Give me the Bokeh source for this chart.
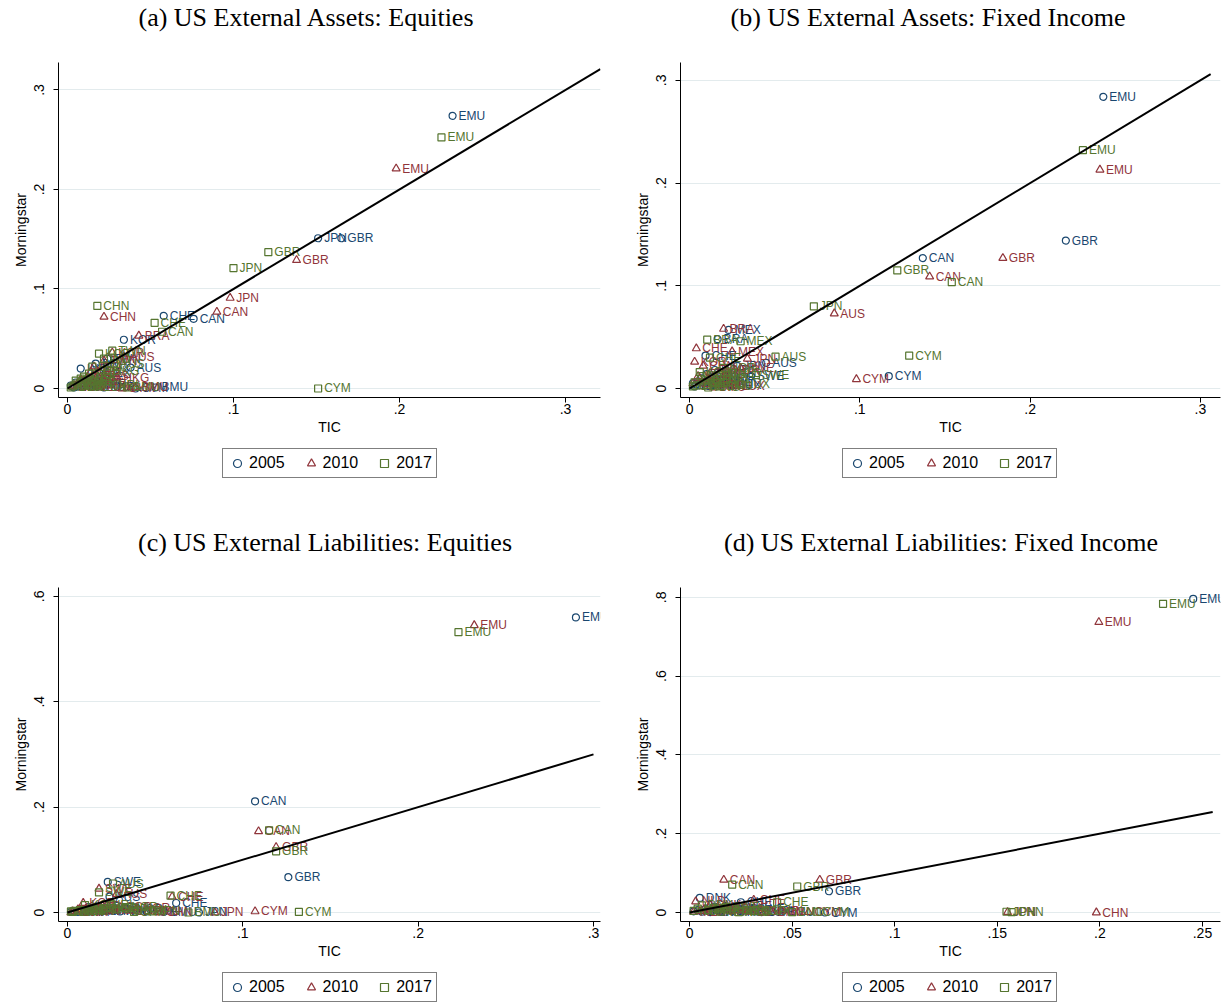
from bokeh.plotting import figure
from bokeh.models import Legend, LegendItem, FixedTicker, Range1d, Div
from bokeh.layouts import column, row
from bokeh.embed import file_html
from bokeh.resources import INLINE
from bokeh.core.properties import value

NAVY = "#1a476f"
MAROON = "#90353b"
FOREST = "#55752f"
GRID = "#e3ebed"

YEARS = ["2005", "2010", "2017"]

# ---------------- (a) US External Assets: Equities ----------------
AEQ_05_CTRY = ["EMU","JPN","GBR","CHE","CAN","KOR","AUS","TWN","BRA","IND","MEX","HKG","SGP","SWE","NLD","BMU","CYM","IRL","LUX","ZAF","DNK","NOR","FIN","ISR"]
AEQ_05_TIC = [0.232,0.151,0.165,0.058,0.076,0.034,0.038,0.024,0.017,0.008,0.019,0.013,0.010,0.015,0.006,0.053,0.041,0.030,0.022,0.005,0.003,0.002,0.004,0.006]
AEQ_05_MS = [0.274,0.151,0.151,0.073,0.070,0.049,0.021,0.030,0.025,0.020,0.016,0.010,0.008,0.005,0.004,0.001,0.000,0.002,0.001,0.006,0.002,0.003,0.001,0.002]

AEQ_10_CTRY = ["EMU","GBR","JPN","CAN","CHN","BRA","AUS","KOR","TWN","HKG","IND","MEX","CYM","BMU","IRL","SWE","SGP","ZAF","NLD","RUS","DNK","NOR","LUX"]
AEQ_10_TIC = [0.198,0.138,0.098,0.090,0.022,0.043,0.034,0.027,0.022,0.030,0.016,0.014,0.033,0.041,0.025,0.011,0.012,0.008,0.006,0.018,0.004,0.003,0.020]
AEQ_10_MS = [0.221,0.129,0.091,0.077,0.072,0.053,0.032,0.036,0.028,0.011,0.022,0.017,0.000,0.001,0.003,0.008,0.011,0.009,0.005,0.013,0.003,0.002,0.001]

AEQ_17_CTRY = ["EMU","GBR","JPN","CHN","CHE","CAN","KOR","TWN","IND","BRA","AUS","HKG","MEX","SGP","CYM","BMU","IRL","LUX","SWE","RUS","ZAF","NLD","ISR","DNK","NOR","THA"]
AEQ_17_TIC = [0.2253,0.121,0.100,0.018,0.0525,0.057,0.019,0.027,0.022,0.015,0.028,0.024,0.010,0.013,0.151,0.036,0.030,0.018,0.009,0.008,0.006,0.004,0.012,0.003,0.002,0.005]
AEQ_17_MS = [0.2523,0.137,0.121,0.083,0.066,0.057,0.035,0.038,0.030,0.022,0.025,0.018,0.012,0.015,0.000,0.001,0.004,0.002,0.007,0.010,0.005,0.003,0.004,0.002,0.001,0.008]

# ---------------- (b) US External Assets: Fixed Income ----------------
AFI_05_CTRY = ["EMU","GBR","CAN","CYM","AUS","MEX","BRA","CHE","SWE","JPN","KOR","NOR","DNK","NLD","CHN","IND","ZAF","CHL","ISR","BMU","LUX","IRL","HKG","SGP","COL"]
AFI_05_TIC = [0.243,0.221,0.137,0.117,0.045,0.023,0.0165,0.0094,0.036,0.028,0.015,0.020,0.012,0.008,0.010,0.004,0.006,0.005,0.003,0.018,0.025,0.022,0.014,0.007,0.002]
AFI_05_MS = [0.284,0.144,0.127,0.012,0.025,0.057,0.048,0.032,0.012,0.022,0.018,0.010,0.008,0.006,0.014,0.004,0.003,0.007,0.002,0.004,0.003,0.006,0.003,0.010,0.005]

AFI_10_CTRY = ["EMU","GBR","CAN","AUS","CYM","JPN","BRA","CHE","MEX","KOR","SWE","NOR","CHN","DNK","NLD","IND","ZAF","CHL","LUX","IRL","BMU","SGP"]
AFI_10_TIC = [0.241,0.184,0.141,0.085,0.098,0.034,0.020,0.004,0.025,0.003,0.030,0.022,0.008,0.012,0.006,0.002,0.016,0.010,0.027,0.018,0.014,0.005]
AFI_10_MS = [0.213,0.127,0.109,0.073,0.009,0.029,0.058,0.039,0.036,0.026,0.020,0.018,0.022,0.015,0.010,0.005,0.006,0.004,0.002,0.003,0.001,0.012]

AFI_17_CTRY = ["EMU","GBR","CAN","JPN","CYM","AUS","MEX","BRA","SWE","KOR","CHE","NOR","DNK","CHN","NLD","IND","ZAF","CHL","LUX","IRL","BMU","SGP","COL","HKG"]
AFI_17_TIC = [0.231,0.122,0.154,0.073,0.129,0.0505,0.030,0.0104,0.039,0.006,0.012,0.020,0.016,0.009,0.025,0.003,0.004,0.014,0.030,0.022,0.018,0.007,0.002,0.011]
AFI_17_MS = [0.232,0.115,0.1035,0.080,0.032,0.031,0.046,0.0475,0.013,0.016,0.030,0.020,0.012,0.008,0.015,0.006,0.003,0.005,0.004,0.009,0.002,0.012,0.002,0.001]

# ---------------- (c) US External Liabilities: Equities ----------------
LEQ_05_CTRY = ["EMU","CAN","GBR","CHE","AUS","SWE","JPN","BMU","KOR","IND","HKG","SGP","NOR","DNK","LUX","IRL","MEX","BRA","ISR","TWN","CHN"]
LEQ_05_TIC = [0.290,0.107,0.126,0.062,0.024,0.023,0.075,0.055,0.012,0.008,0.030,0.018,0.036,0.010,0.045,0.028,0.004,0.006,0.014,0.002,0.020]
LEQ_05_MS = [0.560,0.211,0.067,0.018,0.030,0.058,0.000,0.001,0.010,0.004,0.002,0.005,0.006,0.003,0.002,0.008,0.002,0.001,0.006,0.001,0.003]

LEQ_10_CTRY = ["EMU","CAN","GBR","CYM","JPN","CHE","SWE","AUS","CHN","SGP","NOR","KOR","IND","HKG","BMU","DNK","LUX","IRL","MEX","BRA","ISR","TWN"]
LEQ_10_TIC = [0.232,0.109,0.119,0.107,0.084,0.0597,0.018,0.028,0.053,0.030,0.040,0.009,0.006,0.024,0.046,0.013,0.036,0.020,0.003,0.005,0.015,0.002]
LEQ_10_MS = [0.545,0.154,0.124,0.002,0.000,0.030,0.045,0.035,0.000,0.010,0.008,0.018,0.006,0.004,0.002,0.005,0.003,0.012,0.002,0.001,0.003,0.000]

LEQ_17_CTRY = ["EMU","CAN","GBR","CYM","BMU","CHE","AUS","SWE","NOR","SGP","KOR","IND","HKG","DNK","LUX","IRL","JPN","CHN","MEX","BRA","ISR","TWN"]
LEQ_17_TIC = [0.223,0.115,0.119,0.132,0.069,0.0588,0.026,0.018,0.033,0.028,0.010,0.007,0.022,0.015,0.040,0.025,0.048,0.038,0.004,0.003,0.012,0.002]
LEQ_17_MS = [0.532,0.156,0.116,0.001,0.000,0.032,0.055,0.038,0.010,0.006,0.014,0.004,0.008,0.007,0.004,0.015,0.002,0.001,0.003,0.001,0.002,0.002]

# ---------------- (d) US External Liabilities: Fixed Income ----------------
LFI_05_CTRY = ["EMU","GBR","DNK","CHE","CYM","CAN","JPN","AUS","SWE","NOR","KOR","BMU","LUX","IRL","NLD","CHN","MEX","HKG","SGP"]
LFI_05_TIC = [0.2455,0.068,0.005,0.025,0.066,0.012,0.020,0.008,0.030,0.015,0.004,0.045,0.035,0.040,0.002,0.010,0.006,0.025,0.018]
LFI_05_MS = [0.796,0.054,0.037,0.026,0.000,0.015,0.005,0.010,0.008,0.004,0.006,0.002,0.001,0.003,0.003,0.001,0.002,0.002,0.008]

LFI_10_CTRY = ["EMU","CHN","JPN","CAN","GBR","CHE","NLD","DNK","SWE","AUS","NOR","CYM","BMU","LUX","IRL","KOR","MEX","HKG","SGP"]
LFI_10_TIC = [0.1995,0.1983,0.155,0.0167,0.0635,0.0313,0.003,0.010,0.022,0.014,0.007,0.058,0.040,0.030,0.045,0.005,0.002,0.020,0.026]
LFI_10_MS = [0.737,0.000,0.001,0.083,0.083,0.032,0.028,0.020,0.012,0.010,0.008,0.001,0.001,0.002,0.004,0.003,0.002,0.003,0.005]

LFI_17_CTRY = ["EMU","JPN","CHN","CAN","GBR","CHE","DNK","SWE","AUS","NOR","NLD","CYM","BMU","LUX","IRL","KOR","MEX","HKG","SGP"]
LFI_17_TIC = [0.2308,0.1545,0.157,0.0208,0.0525,0.0427,0.006,0.018,0.012,0.009,0.004,0.062,0.050,0.035,0.028,0.002,0.015,0.024,0.032]
LFI_17_MS = [0.7835,0.002,0.001,0.071,0.066,0.026,0.018,0.014,0.012,0.006,0.010,0.002,0.001,0.003,0.006,0.004,0.002,0.001,0.004]

TITLES = ["(a) US External Assets: Equities",
          "(b) US External Assets: Fixed Income",
          "(c) US External Liabilities: Equities",
          "(d) US External Liabilities: Fixed Income"]

TICKS_A = [0, 0.1, 0.2, 0.3]
TICKLABELS_A = ["0", ".1", ".2", ".3"]
TICKS_C_Y = [0, 0.2, 0.4, 0.6]
TICKLABELS_C_Y = ["0", ".2", ".4", ".6"]
TICKS_D_X = [0, 0.05, 0.1, 0.15, 0.2, 0.25]
TICKLABELS_D_X = ["0", ".05", ".1", ".15", ".2", ".25"]
TICKS_D_Y = [0, 0.2, 0.4, 0.6, 0.8]
TICKLABELS_D_Y = ["0", ".2", ".4", ".6", ".8"]

# 45-degree reference line end (TIC = Morningstar)
LINE_END = [0.321, 0.306, 0.300, 0.255]

COLORS = [NAVY, MAROON, FOREST]
MARKERS = ["circle", "triangle", "square"]
MSIZES = [7, 8, 7]

FONT = "Liberation Sans"
W = 612


def title_div(text, shift, height):
    html = ('<div style="width:%dpx;text-align:center;position:relative;left:%dpx;'
            'font-family:\'Liberation Serif\',\'Times New Roman\',serif;font-size:26px;'
            'line-height:36px;color:black;white-space:nowrap;">%s</div>') % (W, shift, text)
    return Div(text=html, width=W, height=height, margin=(0, 0, 0, 0))


def make_panel(series, xr, yr, xticks, xlabels, yticks, ylabels, line_end, height, borders):
    p = figure(width=W, height=height, x_range=Range1d(*xr), y_range=Range1d(*yr),
               output_backend="svg", toolbar_location=None, title=None,
               min_border_left=borders[0], min_border_right=borders[1],
               min_border_top=borders[2], min_border_bottom=borders[3])
    p.outline_line_color = None
    p.background_fill_color = "white"
    p.border_fill_color = "white"

    p.xgrid.visible = False
    p.ygrid.ticker = FixedTicker(ticks=yticks)
    p.ygrid.grid_line_color = GRID
    p.ygrid.grid_line_width = 1

    for ax, ticks, labels, name in ((p.xaxis[0], xticks, xlabels, "TIC"),
                                    (p.yaxis[0], yticks, ylabels, "Morningstar")):
        ax.ticker = FixedTicker(ticks=ticks)
        ax.major_label_overrides = {t: l for t, l in zip(ticks, labels)}
        ax.axis_label = name
        ax.axis_label_text_font = FONT
        ax.axis_label_text_font_size = "14px"
        ax.axis_label_text_font_style = "normal"
        ax.axis_label_text_color = "black"
        ax.major_label_text_font = FONT
        ax.major_label_text_font_size = "14px"
        ax.major_label_text_color = "black"
        ax.axis_line_color = "black"
        ax.axis_line_width = 1
        ax.major_tick_line_color = "black"
        ax.major_tick_out = 5
        ax.major_tick_in = 0
        ax.minor_tick_line_color = None
    p.xaxis[0].major_label_standoff = 1
    p.xaxis[0].axis_label_standoff = 2
    p.yaxis[0].major_label_orientation = "vertical"
    p.yaxis[0].major_label_standoff = 9
    p.yaxis[0].axis_label_standoff = 3

    for (ctry, tic, ms), color, marker, msize in zip(series, COLORS, MARKERS, MSIZES):
        p.scatter(x=tic, y=ms, marker=marker, size=msize, fill_color=None,
                  line_color=color, line_width=1.2)
        p.text(x=tic, y=ms, text=ctry, x_offset=6, text_align="left",
               text_baseline="middle", text_font=value(FONT), text_font_size="12px",
               text_color=color)

    p.line(x=[0, line_end], y=[0, line_end], line_color="black", line_width=2)
    return p


def legend_fig(height, legend_x, legend_bottom):
    f = figure(width=W, height=height, x_range=Range1d(0, 1), y_range=Range1d(0, 1),
               x_axis_type=None, y_axis_type=None, output_backend="svg",
               toolbar_location=None, title=None,
               min_border_left=0, min_border_right=0, min_border_top=0, min_border_bottom=0)
    f.outline_line_color = None
    f.grid.visible = False
    items = []
    for year, color, marker in zip(YEARS, COLORS, MARKERS):
        # key-only renderer: its single point lies outside the visible range
        r = f.scatter(x=[-5], y=[-5], marker=marker, size=7, fill_color=None,
                      line_color=color, line_width=1.2)
        items.append(LegendItem(label=year, renderers=[r]))
    lg = Legend(items=items, orientation="horizontal",
                location=(legend_x, legend_bottom),
                border_line_color="black", border_line_width=1,
                background_fill_color="white", background_fill_alpha=1,
                label_text_font=FONT, label_text_font_size="16px",
                label_text_color="black", glyph_width=20, glyph_height=20,
                label_height=20, label_standoff=2, spacing=16, padding=4, margin=0)
    f.add_layout(lg, "center")
    return f


pa = make_panel([(AEQ_05_CTRY, AEQ_05_TIC, AEQ_05_MS), (AEQ_10_CTRY, AEQ_10_TIC, AEQ_10_MS),
                 (AEQ_17_CTRY, AEQ_17_TIC, AEQ_17_MS)],
                (-0.0054, 0.3211), (-0.00905, 0.3276), TICKS_A, TICKLABELS_A, TICKS_A, TICKLABELS_A,
                LINE_END[0], 403, (58, 12, 22, 46))

pb = make_panel([(AFI_05_CTRY, AFI_05_TIC, AFI_05_MS), (AFI_10_CTRY, AFI_10_TIC, AFI_10_MS),
                 (AFI_17_CTRY, AFI_17_TIC, AFI_17_MS)],
                (-0.0053, 0.3118), (-0.00876, 0.3174), TICKS_A, TICKLABELS_A, TICKS_A, TICKLABELS_A,
                LINE_END[1], 403, (68, 4, 22, 46))

pc = make_panel([(LEQ_05_CTRY, LEQ_05_TIC, LEQ_05_MS), (LEQ_10_CTRY, LEQ_10_TIC, LEQ_10_MS),
                 (LEQ_17_CTRY, LEQ_17_TIC, LEQ_17_MS)],
                (-0.0051, 0.304), (-0.0171, 0.6167), TICKS_A, TICKLABELS_A, TICKS_C_Y, TICKLABELS_C_Y,
                LINE_END[2], 402, (58, 12, 22, 46))

pd_ = make_panel([(LFI_05_CTRY, LFI_05_TIC, LFI_05_MS), (LFI_10_CTRY, LFI_10_TIC, LFI_10_MS),
                  (LFI_17_CTRY, LFI_17_TIC, LFI_17_MS)],
                 (-0.0044, 0.2588), (-0.0228, 0.8249), TICKS_D_X, TICKLABELS_D_X, TICKS_D_Y, TICKLABELS_D_Y,
                 LINE_END[3], 402, (68, 4, 22, 46))

col_a = column(title_div(TITLES[0], 0, 40), pa, legend_fig(82, 164, 47))
col_b = column(title_div(TITLES[1], 10, 40), pb, legend_fig(82, 162, 47))
col_c = column(title_div(TITLES[2], 19, 40), pc, legend_fig(36, 164, 1))
col_d = column(title_div(TITLES[3], 23, 40), pd_, legend_fig(36, 162, 1))

layout = column(row(col_a, col_b), row(col_c, col_d))
open("out.html", "w").write(file_html(layout, INLINE))
